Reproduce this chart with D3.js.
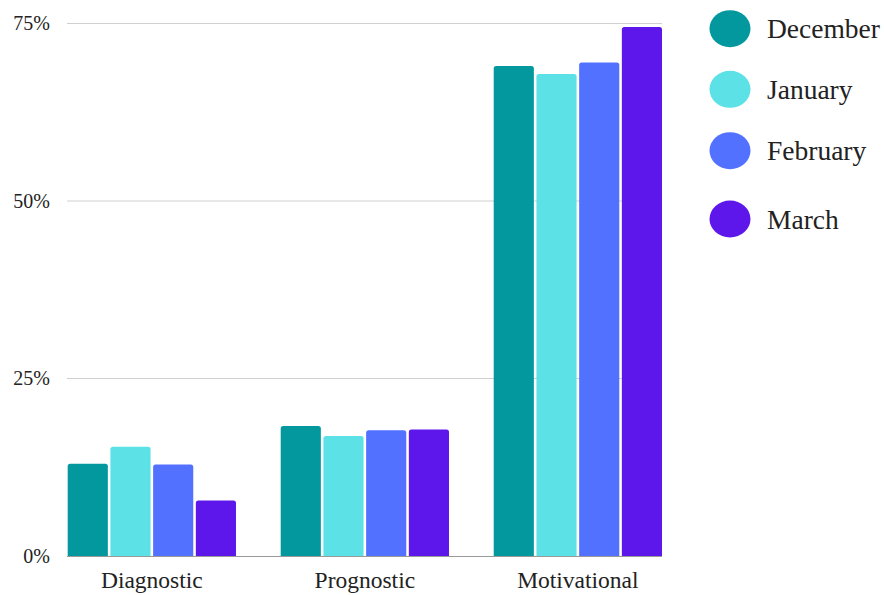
<!DOCTYPE html>
<html><head><meta charset="utf-8">
<script src="https://cdn.jsdelivr.net/npm/d3@7"></script>
<style>
html,body{margin:0;padding:0;background:#fff;}
svg{display:block;font-family:"Liberation Serif",serif;}
</style></head>
<body><svg id="c" width="884" height="595"></svg>
<script>
const categories = ["Diagnostic","Prognostic","Motivational"];
const seriesNames = ["December","January","February","March"];
const december = [13.0, 18.3, 69.0];
const january  = [15.4, 16.9, 67.9];
const february = [12.9, 17.7, 69.5];
const march    = [7.8, 17.8, 74.5];
const yTicks = [0, 25, 50, 75];
const colors = ["#03989e","#5ce1e6","#5271ff","#5e17eb"];

const seriesValues = [december, january, february, march];
const svg = d3.select("#c");
const x0 = d3.scaleBand().domain(categories).range([67.7, 662]).paddingInner(0.21).paddingOuter(0);
const x1 = d3.scaleBand().domain(seriesNames).range([0, x0.bandwidth()]).paddingInner(0.06).paddingOuter(0);
const y = d3.scaleLinear().domain([0, 75]).range([556, 23.5]);

// gridlines
svg.append("g").selectAll("line").data(yTicks.filter(d=>d>0)).join("line")
  .attr("x1", 67).attr("x2", 662)
  .attr("y1", d=>y(d)).attr("y2", d=>y(d))
  .attr("stroke", "#d0d0d0").attr("stroke-width", 1);

// y axis labels
const yAxis = d3.axisLeft(y).tickValues(yTicks).tickFormat(d=>d+"%").tickSize(0).tickPadding(0);
const ya = svg.append("g").attr("transform","translate(50,0)").call(yAxis);
ya.select(".domain").remove();
ya.selectAll("text").attr("font-size", 20).attr("fill","#222").attr("font-family","Liberation Serif, serif");

// bars
const groups = svg.append("g").selectAll("g").data(categories).join("g")
  .attr("transform", d=>`translate(${x0(d)},0)`);
groups.selectAll("path").data((c,i)=>seriesNames.map((s,j)=>({s, v: seriesValues[j][i], j})))
  .join("path")
  .attr("d", d=>{
    const bx = x1(d.s), bw = x1.bandwidth(), top = y(d.v), bot = y(0), r = 2.5;
    return `M${bx},${bot}V${top+r}Q${bx},${top} ${bx+r},${top}H${bx+bw-r}Q${bx+bw},${top} ${bx+bw},${top+r}V${bot}Z`;
  })
  .attr("fill", d=>colors[d.j]);

// baseline
svg.append("line").attr("x1",67).attr("x2",662).attr("y1",556.5).attr("y2",556.5)
  .attr("stroke","#9a9a9a").attr("stroke-width",1.2);

// x axis labels
const xAxis = d3.axisBottom(x0).tickSize(0).tickPadding(0);
const xa = svg.append("g").attr("transform","translate(0,571)").call(xAxis);
xa.select(".domain").remove();
xa.selectAll("text").attr("font-size", 23.5).attr("fill","#222").attr("font-family","Liberation Serif, serif");

// legend
const legendY = [28.7, 89.3, 150.7, 219];
const lg = svg.append("g").selectAll("g").data(seriesNames).join("g")
  .attr("transform",(d,i)=>`translate(730,${legendY[i]})`);
lg.append("ellipse").attr("rx",20.5).attr("ry",18.5).attr("fill",(d,i)=>colors[i]);
lg.append("text").attr("x",37).attr("dy","0.35em").attr("font-size",27.5).attr("fill","#222")
  .text(d=>d);
</script></body></html>
